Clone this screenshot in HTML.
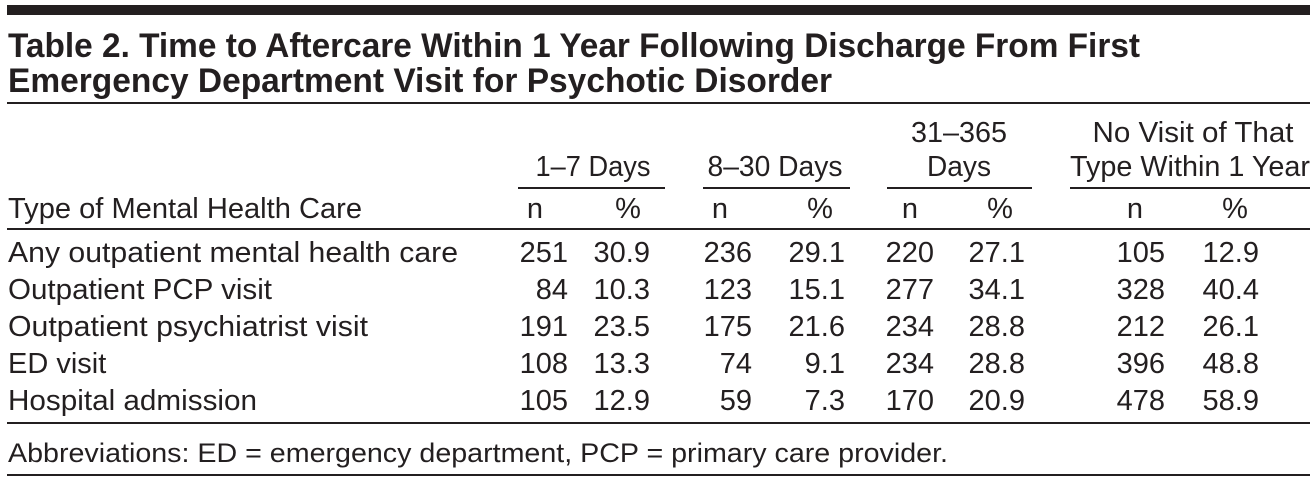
<!DOCTYPE html>
<html><head><meta charset="utf-8"><style>
html,body{margin:0;padding:0;background:#fff}
svg{display:block}
text{font-family:"Liberation Sans",sans-serif;fill:#231f20}
</style></head><body>
<svg id="tbl" width="1315" height="484" viewBox="0 0 1315 484" xmlns="http://www.w3.org/2000/svg">
<rect x="7" y="5" width="1303" height="10" fill="#231f20"/>
<text x="8" y="57" font-size="34" font-weight="bold" textLength="1132" lengthAdjust="spacingAndGlyphs">Table 2. Time to Aftercare Within 1 Year Following Discharge From First</text>
<text x="8" y="92" font-size="34" font-weight="bold" textLength="824" lengthAdjust="spacingAndGlyphs">Emergency Department Visit for Psychotic Disorder</text>
<rect x="7" y="102" width="1303" height="2" fill="#231f20"/>
<text x="959" y="142" font-size="29" text-anchor="middle" textLength="96" lengthAdjust="spacingAndGlyphs">31–365</text>
<text x="1193" y="142" font-size="29" text-anchor="middle" textLength="201" lengthAdjust="spacingAndGlyphs">No Visit of That</text>
<text x="593" y="176" font-size="29" text-anchor="middle" textLength="115" lengthAdjust="spacingAndGlyphs">1–7 Days</text>
<text x="775" y="176" font-size="29" text-anchor="middle" textLength="135" lengthAdjust="spacingAndGlyphs">8–30 Days</text>
<text x="959" y="176" font-size="29" text-anchor="middle" textLength="64" lengthAdjust="spacingAndGlyphs">Days</text>
<text x="1190" y="176" font-size="29" text-anchor="middle" textLength="240" lengthAdjust="spacingAndGlyphs">Type Within 1 Year</text>
<rect x="518" y="187" width="147" height="2" fill="#231f20"/>
<rect x="703" y="187" width="147" height="2" fill="#231f20"/>
<rect x="887" y="187" width="145" height="2" fill="#231f20"/>
<rect x="1070" y="187" width="240" height="2" fill="#231f20"/>
<text x="8" y="218" font-size="29" textLength="354" lengthAdjust="spacingAndGlyphs">Type of Mental Health Care</text>
<g id="sub"></g>
<rect x="7" y="228" width="1303" height="2" fill="#231f20"/>
<g id="body"></g>
<rect x="7" y="422" width="1303" height="2" fill="#231f20"/>
<text x="8" y="462" font-size="27" textLength="940" lengthAdjust="spacingAndGlyphs">Abbreviations: ED = emergency department, PCP = primary care provider.</text>
<rect x="7" y="474" width="1303" height="2" fill="#231f20"/>
</svg>
<script>
const categories = ["Any outpatient mental health care","Outpatient PCP visit","Outpatient psychiatrist visit","ED visit","Hospital admission"];
const n1to7 = ["251","84","191","108","105"];
const p1to7 = ["30.9","10.3","23.5","13.3","12.9"];
const n8to30 = ["236","123","175","74","59"];
const p8to30 = ["29.1","15.1","21.6","9.1","7.3"];
const n31to365 = ["220","277","234","234","170"];
const p31to365 = ["27.1","34.1","28.8","28.8","20.9"];
const nNone = ["105","328","212","396","478"];
const pNone = ["12.9","40.4","26.1","48.8","58.9"];
const subLabels = ["n","%","n","%","n","%","n","%"];

const NS="http://www.w3.org/2000/svg";
const labelWidths=[450,264,360,0,249];
const colRight=[568,650,752,845,934,1025,1165,1259];
const subCenter=[535,628,720,820,910,1000,1135,1235];
const rowY=i=>262+i*37;
function t(parent,x,y,s,anchor){
  const e=document.createElementNS(NS,"text");
  e.setAttribute("x",x);e.setAttribute("y",y);e.setAttribute("font-size","29");
  if(anchor)e.setAttribute("text-anchor",anchor);
  e.textContent=s;parent.appendChild(e);return e;
}
const sub=document.getElementById("sub");
subLabels.forEach((s,j)=>{
  const e=t(sub,subCenter[j],218,s,"middle");
  
  
});
const body=document.getElementById("body");
const cols=[n1to7,p1to7,n8to30,p8to30,n31to365,p31to365,nNone,pNone];
categories.forEach((c,i)=>{
  const g=document.createElementNS(NS,"g");
  
  
  body.appendChild(g);
  const l=t(g,8,rowY(i),c);
  if(labelWidths[i]){l.setAttribute("textLength",labelWidths[i]);l.setAttribute("lengthAdjust","spacingAndGlyphs");}
  
  
  cols.forEach((arr,j)=>{
    const e=t(g,colRight[j],rowY(i),arr[i],"end");
    
    
  });
});
</script>
</body></html>
